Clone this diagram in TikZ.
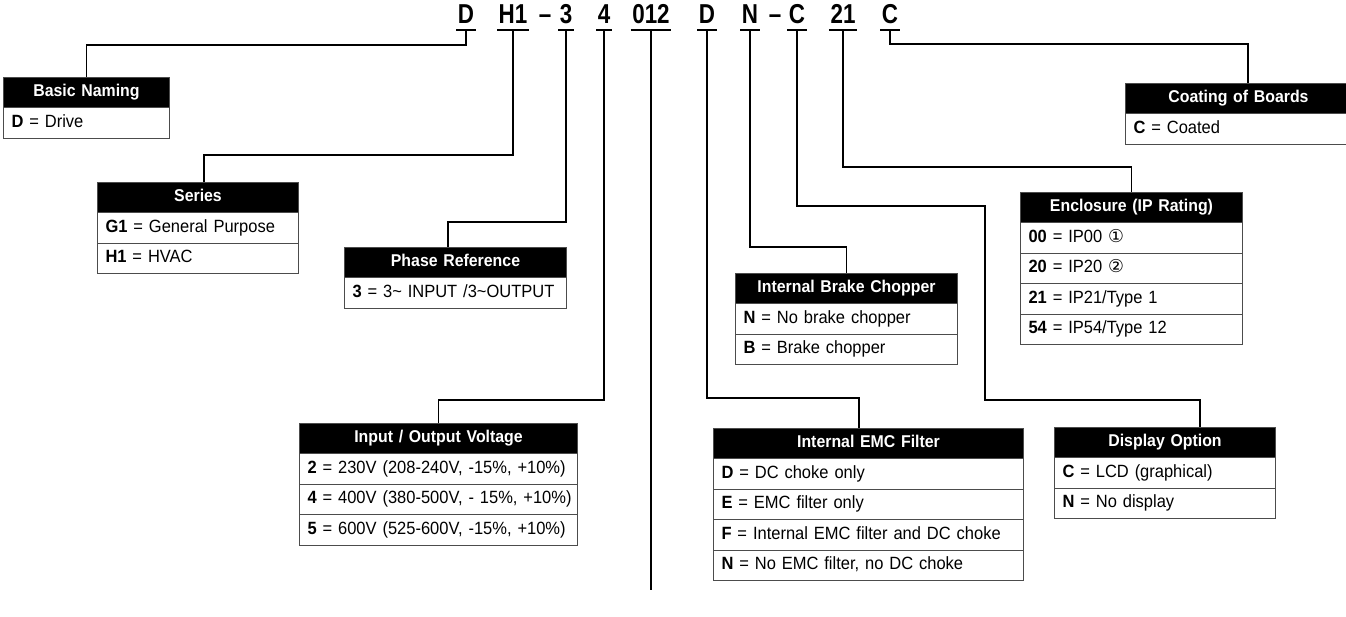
\documentclass[tikz,border=0pt]{standalone}
\usepackage{fontspec}
\setmainfont[FakeStretch=0.93]{Liberation Sans}
\newfontfamily\codefont[FakeStretch=0.82]{Liberation Sans}
\newfontfamily\symfont{DejaVu Sans}
\newcommand\infobox[6]{%
  \pgfmathsetmacro\bw{#4*0.75-12}%
  \node[hdr, anchor=north west, text width=\bw pt] (#1) at (#2,#3) {#5};
  \foreach \r [count=\i] in {#6} {
    \node[rowbox, anchor=north west, text width=\bw pt] (#1-\i) at (#2, {#3+30+(\i-1)*30.5}) {\mbox{\r}};
  }
}
\begin{document}
\begin{tikzpicture}[x=0.75pt,y=-0.75pt,
  code/.style={font=\codefont\bfseries\fontsize{20.5}{20}\selectfont, inner xsep=1pt, inner ysep=4.1pt, anchor=base},
  hdr/.style={fill=black, draw=black!70, line width=0.75pt, text=white, font=\bfseries\fontsize{12.8}{14}\selectfont, minimum height=22.5pt, inner xsep=6pt, align=center, text height=9pt, text depth=2.5pt},
  rowbox/.style={draw=black!70, line width=0.75pt, font=\fontsize{13.3}{15}\selectfont, minimum height=22.9pt, inner xsep=6pt, align=left, text height=9.5pt, text depth=3pt},
  conn/.style={line width=1pt},
  uline/.style={line width=1.5pt}]
\useasboundingbox (0,0) rectangle (1346,617);

% code letters
\node[code] (k1) at (466,24) {D};
\node[code] (k2) at (513,24) {H1};
\node[code] (dashA) at (545,24) {–};
\node[code] (k3) at (566,24) {3};
\node[code] (k4) at (604,24) {4};
\node[code] (k5) at (651,24) {012};
\node[code] (k6) at (707,24) {D};
\node[code] (k7) at (750,24) {N};
\node[code] (dashB) at (775,24) {–};
\node[code] (k8) at (797,24) {C};
\node[code] (k9) at (843,24) {21};
\node[code] (k10) at (890,24) {C};
\foreach \k in {k1,k2,k3,k4,k5,k6,k7,k8,k9,k10}
  \draw[uline] (\k.south west) -- (\k.south east);

% boxes
\infobox{basic}{3}{77}{166}{Basic Naming}{{\textbf{D} = Drive}}
\infobox{series}{97}{182}{201}{Series}{{\textbf{G1} = General Purpose},{\textbf{H1} = HVAC}}
\infobox{phase}{344}{247}{222}{Phase Reference}{{\textbf{3} = 3\textasciitilde{} INPUT /3\textasciitilde OUTPUT}}
\infobox{volt}{299}{423}{278}{Input / Output Voltage}{{\textbf{2} = 230V (208-240V, -15\%, +10\%)},{\textbf{4} = 400V (380-500V, - 15\%, +10\%)},{\textbf{5} = 600V (525-600V, -15\%, +10\%)}}
\infobox{emc}{713}{428}{310}{Internal EMC Filter}{{\textbf{D} = DC choke only},{\textbf{E} = EMC filter only},{\textbf{F} = Internal EMC filter and DC choke},{\textbf{N} = No EMC filter, no DC choke}}
\infobox{brake}{735}{273}{222}{Internal Brake Chopper}{{\textbf{N} = No brake chopper},{\textbf{B} = Brake chopper}}
\infobox{encl}{1020}{192}{222}{Enclosure (IP Rating)}{{\textbf{00} = IP00 {\symfont ①}},{\textbf{20} = IP20 {\symfont ②}},{\textbf{21} = IP21/Type 1},{\textbf{54} = IP54/Type 12}}
\infobox{disp}{1054}{427}{221}{Display Option}{{\textbf{C} = LCD (graphical)},{\textbf{N} = No display}}
\infobox{coat}{1125}{83}{226}{Coating of Boards}{{\textbf{C} = Coated}}

% connectors
\coordinate (end012) at (651,590);
\draw[conn] (k1.south) -- (k1.south |- 0,45) -| (basic.north);
\draw[conn] (k2.south) -- (k2.south |- 0,155) -| (204,0 |- series.north);
\draw[conn] (k3.south) -- (k3.south |- 0,222) -| (448,0 |- phase.north);
\draw[conn] (k4.south) -- (k4.south |- 0,400) -| (volt.north);
\draw[conn] (k5.south) -- (k5.south |- end012);
\draw[conn] (k6.south) -- (k6.south |- 0,398) -| (859,0 |- emc.north);
\draw[conn] (k7.south) -- (k7.south |- 0,247) -| (brake.north);
\draw[conn] (k8.south) -- (k8.south |- 0,206) -| (985,400) -| (1200,0 |- disp.north);
\draw[conn] (k9.south) -- (k9.south |- 0,167) -| (encl.north);
\draw[conn] (k10.south) -- (k10.south |- 0,44) -| (1248,0 |- coat.north);
\end{tikzpicture}
\end{document}
